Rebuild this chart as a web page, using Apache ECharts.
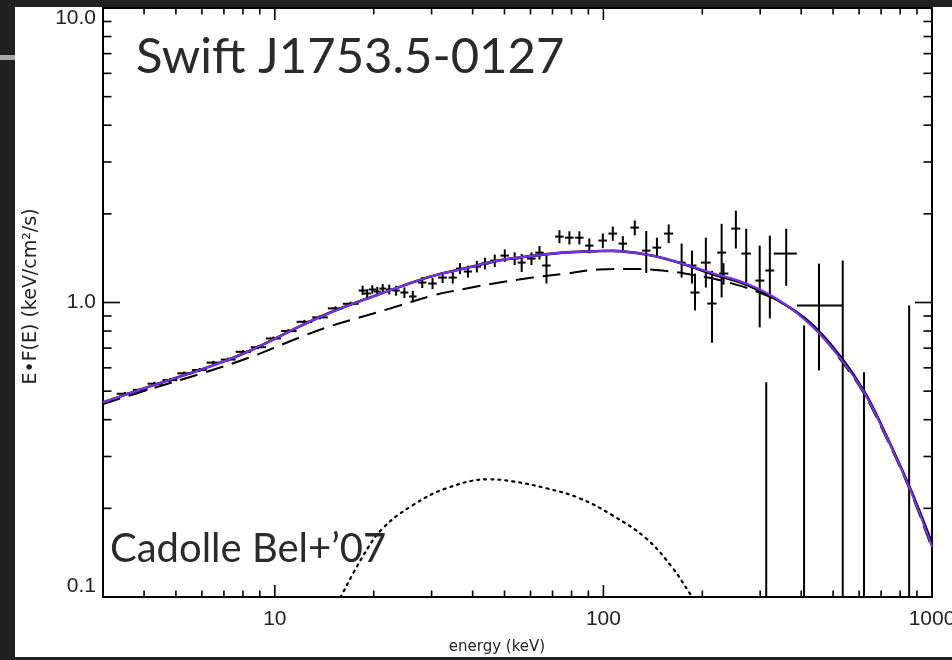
<!DOCTYPE html>
<html><head><meta charset="utf-8">
<script src="https://cdn.jsdelivr.net/npm/echarts@6/dist/echarts.min.js"></script>
<style>html,body{margin:0;padding:0;background:#202020;}#chart{width:952px;height:660px;}</style>
</head><body><div id="chart"></div>
<script>
// ---- model curves ----
const modelEnergy = [3, 4.17, 5.91, 7.0, 8.39, 10, 11.9, 15.0, 19.0, 24.0, 30.2, 38.3, 48.3, 60.8, 77.2, 97.2, 106, 135, 170, 214, 272, 343, 432, 532, 621, 704, 852, 1000];
const modelFlux = [0.458, 0.519, 0.590, 0.631, 0.686, 0.753, 0.830, 0.932, 1.029, 1.13, 1.23, 1.31, 1.39, 1.44, 1.48, 1.495, 1.497, 1.455, 1.365, 1.26, 1.16, 1.016, 0.83, 0.636, 0.495, 0.377, 0.236, 0.148];
const blackModelFlux = [0.458, 0.519, 0.590, 0.631, 0.686, 0.753, 0.830, 0.932, 1.029, 1.13, 1.23, 1.31, 1.39, 1.44, 1.48, 1.495, 1.497, 1.455, 1.365, 1.25, 1.15, 1.01, 0.84, 0.645, 0.50, 0.38, 0.238, 0.152];
const comptEnergy = [3, 4.17, 5.91, 8.39, 11.9, 15.0, 19.0, 24.0, 30.2, 38.3, 48.3, 60.8, 77.2, 97.2, 120, 151, 192, 241, 304, 360, 432, 532, 621, 704, 852, 1000];
const comptFlux = [0.452, 0.508, 0.572, 0.651, 0.761, 0.836, 0.903, 0.977, 1.056, 1.116, 1.169, 1.215, 1.254, 1.294, 1.30, 1.284, 1.235, 1.169, 1.073, 0.977, 0.84, 0.63, 0.49, 0.373, 0.234, 0.146];
const reflEnergy = [15.5, 18.5, 21.3, 26.3, 33.3, 45.0, 52.9, 67.1, 84.5, 106, 135, 162, 183, 192];
const reflFlux = [0.095, 0.137, 0.171, 0.205, 0.234, 0.251, 0.247, 0.234, 0.2166, 0.190, 0.158, 0.126, 0.103, 0.095];

// ---- data points: [energy, energyLo, energyHi, flux, fluxLo, fluxHi] ----
const jemxPoints = [
  [3.5, 3.3, 3.7, 0.49, 0.483, 0.497],
  [3.9, 3.7, 4.1, 0.505, 0.498, 0.512],
  [4.3, 4.1, 4.55, 0.53, 0.522, 0.538],
  [4.8, 4.55, 5.05, 0.545, 0.537, 0.553],
  [5.3, 5.05, 5.6, 0.575, 0.567, 0.583],
  [5.9, 5.6, 6.2, 0.59, 0.581, 0.599],
  [6.5, 6.2, 6.85, 0.625, 0.616, 0.634],
  [7.2, 6.85, 7.6, 0.64, 0.63, 0.65],
  [8.0, 7.6, 8.45, 0.68, 0.67, 0.69],
  [8.9, 8.45, 9.4, 0.705, 0.694, 0.716],
  [9.9, 9.4, 10.45, 0.755, 0.744, 0.766],
  [11, 10.45, 11.65, 0.80, 0.788, 0.812],
  [12.3, 11.65, 13, 0.86, 0.847, 0.873],
  [13.7, 13, 14.5, 0.89, 0.876, 0.904],
  [15.3, 14.5, 16.1, 0.955, 0.94, 0.97],
  [17, 16.1, 18, 0.99, 0.974, 1.006]
];
const isgriPoints = [
  [18.5, 18.0, 19.0, 1.098, 1.06, 1.14],
  [19.1, 18.6, 19.6, 1.073, 1.035, 1.11],
  [19.8, 19.3, 20.3, 1.107, 1.07, 1.145],
  [20.5, 20.0, 21.0, 1.09, 1.05, 1.13],
  [21.3, 20.8, 21.8, 1.115, 1.075, 1.155],
  [22.3, 21.8, 22.8, 1.107, 1.065, 1.15],
  [23.4, 22.8, 24.0, 1.098, 1.055, 1.14],
  [24.8, 24.1, 25.5, 1.081, 1.035, 1.125],
  [26.3, 25.6, 27.0, 1.048, 1.0, 1.095],
  [28.1, 27.3, 28.9, 1.169, 1.12, 1.22],
  [30.2, 29.3, 31.1, 1.16, 1.11, 1.21],
  [32.4, 31.4, 33.4, 1.215, 1.165, 1.265],
  [34.8, 33.8, 35.8, 1.215, 1.16, 1.27],
  [36.6, 35.6, 37.6, 1.304, 1.25, 1.36],
  [38.7, 37.6, 39.8, 1.274, 1.215, 1.335],
  [41.2, 40.0, 42.4, 1.324, 1.265, 1.385],
  [43.6, 42.4, 44.8, 1.356, 1.295, 1.42],
  [46.7, 45.3, 48.1, 1.388, 1.32, 1.455],
  [50.1, 48.6, 51.6, 1.443, 1.375, 1.515],
  [53.7, 52.1, 55.3, 1.41, 1.34, 1.48],
  [56.4, 54.8, 58.0, 1.366, 1.27, 1.46],
  [60.4, 58.6, 62.2, 1.41, 1.34, 1.48],
  [63.9, 62.0, 65.8, 1.477, 1.40, 1.555],
  [67.1, 65.1, 69.1, 1.335, 1.16, 1.443],
  [73.5, 71.3, 75.7, 1.674, 1.59, 1.76],
  [78.8, 76.4, 81.2, 1.66, 1.575, 1.745],
  [84.5, 82.0, 87.0, 1.66, 1.575, 1.745],
  [90.6, 88.0, 93.3, 1.56, 1.47, 1.65],
  [99.6, 96.6, 102.6, 1.623, 1.53, 1.715],
  [106.8, 103.6, 110, 1.714, 1.62, 1.81],
  [114.6, 111.2, 118, 1.585, 1.49, 1.68],
  [124.6, 120.8, 128.4, 1.796, 1.69, 1.90],
  [135, 131, 139, 1.50, 1.26, 1.75],
  [145.5, 141, 150, 1.536, 1.42, 1.66],
  [158, 153, 163, 1.714, 1.59, 1.84],
  [173, 168, 178, 1.366, 1.215, 1.585],
  [186, 180, 192, 1.335, 1.16, 1.50],
  [190, 184, 196, 1.081, 0.94, 1.254],
  [205, 198, 212, 1.366, 1.124, 1.66],
  [214, 207, 221, 0.992, 0.73, 1.28],
  [229, 222, 236, 1.477, 1.04, 1.85],
  [232, 225, 240, 1.254, 1.15, 1.36],
  [253, 245, 261, 1.782, 1.525, 2.05],
  [272, 263, 281, 1.466, 1.14, 1.78],
  [299, 290, 309, 1.187, 0.823, 1.56],
  [321, 311, 331, 1.284, 0.883, 1.687],
  [360, 330, 388, 1.466, 1.14, 1.78],
  [453, 388, 532, 0.977, 0.588, 1.355]
];
const upperPoints = [
  [313, 305, 321, 0.05, 0.01, 0.536],
  [408, 398, 418, 0.05, 0.01, 0.836],
  [535, 522, 548, 0.05, 0.01, 1.388],
  [621, 606, 636, 0.05, 0.01, 0.58],
  [852, 832, 872, 0.05, 0.01, 0.977]
];

// ---- axes ticks and labels ----
const xMajorTicks = [10, 100, 1000];
const xTickLabels = ['10', '100', '1000'];
const xMinorTicks = [4, 5, 6, 7, 8, 9, 20, 30, 40, 50, 60, 70, 80, 90, 200, 300, 400, 500, 600, 700, 800, 900];
const yMajorTicks = [0.1, 1, 10];
const yTickLabels = ['0.1', '1.0', '10.0'];
const yMinorTicks = [0.2, 0.3, 0.4, 0.5, 0.6, 0.7, 0.8, 0.9, 2, 3, 4, 5, 6, 7, 8, 9];

const titleText = 'Swift J1753.5-0127';
const refText = 'Cadolle Bel+\u201907';

function zip(a, b) { return a.map((v, i) => [v, b[i]]); }
function labelFor(v, ticks, labels) {
  for (let i = 0; i < ticks.length; i++) if (Math.abs(v - ticks[i]) / ticks[i] < 1e-6) return labels[i];
  return '';
}

const tickData = [].concat(
  xMajorTicks.map(v => [v, 1]), xMinorTicks.map(v => [v, 2]),
  yMajorTicks.map(v => [v, 3]), yMinorTicks.map(v => [v, 4]));

function renderTicks(params, api) {
  const v = api.value(0), kind = api.value(1);
  const cs = params.coordSys;
  const st = { stroke: '#000', lineWidth: 1.6 };
  if (kind === 1 || kind === 2) {
    const x = api.coord([v, 1])[0];
    const L = kind === 1 ? 12 : 6.5;
    return { type: 'group', children: [
      { type: 'line', shape: { x1: x, y1: cs.y + cs.height, x2: x, y2: cs.y + cs.height - L }, style: st },
      { type: 'line', shape: { x1: x, y1: cs.y, x2: x, y2: cs.y + L }, style: st }
    ]};
  }
  const y = api.coord([10, v])[1];
  const L = kind === 3 ? 17 : 8.5;
  return { type: 'group', children: [
    { type: 'line', shape: { x1: cs.x, y1: y, x2: cs.x + L, y2: y }, style: st },
    { type: 'line', shape: { x1: cs.x + cs.width, y1: y, x2: cs.x + cs.width - L, y2: y }, style: st }
  ]};
}

function renderErr(params, api) {
  const e = api.value(0), elo = api.value(1), ehi = api.value(2);
  const f = api.value(3), flo = api.value(4), fhi = api.value(5);
  const pl = api.coord([elo, f]), pr = api.coord([ehi, f]);
  const pb = api.coord([e, flo]), pt = api.coord([e, fhi]);
  const st = { stroke: '#000', lineWidth: 2 };
  return { type: 'group', children: [
    { type: 'line', shape: { x1: pl[0], y1: pl[1], x2: pr[0], y2: pr[1] }, style: st },
    { type: 'line', shape: { x1: pb[0], y1: pb[1], x2: pt[0], y2: pt[1] }, style: st }
  ]};
}

function errSeries(name, pts) {
  return { name, type: 'custom', renderItem: renderErr, data: pts, clip: true, z: 3,
    dimensions: ['e', 'elo', 'ehi', 'f', 'flo', 'fhi'], encode: { x: 0, y: 3 } };
}

const chart = echarts.init(document.getElementById('chart'), null, { renderer: 'canvas' });
chart.setOption({
  animation: false,
  backgroundColor: '#202020',
  graphic: [
    { type: 'rect', z: -100, shape: { x: 15, y: 7, width: 937, height: 650 }, style: { fill: '#ffffff' } },
    { type: 'rect', z: -100, shape: { x: 0, y: 55, width: 15, height: 5 }, style: { fill: '#a8a8a8' } }
  ],
  title: [
    { text: titleText, left: 136, top: 33, padding: 0,
      textStyle: { fontFamily: 'Lato', fontWeight: 'normal', fontSize: 49, color: '#2a2a2a' } },
    { text: refText, left: 110, top: 529, padding: 0,
      textStyle: { fontFamily: 'Lato', fontWeight: 'normal', fontSize: 40, color: '#2a2a2a' } }
  ],
  grid: { left: 103, right: 20, top: 8, bottom: 63, show: true, borderColor: '#000', borderWidth: 2,
    backgroundColor: 'transparent', containLabel: false, outerBoundsMode: 'none' },
  xAxis: {
    type: 'log', logBase: 10, min: 3, max: 1000,
    name: 'energy (keV)', nameLocation: 'middle', nameGap: 43,
    nameTextStyle: { fontFamily: 'DejaVu Sans', fontSize: 15, color: '#222', padding: [0, 41, 0, 0] },
    axisLine: { show: true, lineStyle: { color: '#000', width: 2 } },
    axisTick: { show: false }, minorTick: { show: false }, splitLine: { show: false },
    axisLabel: { show: true, margin: 12, fontFamily: 'Liberation Sans', fontSize: 21, color: '#222',
      hideOverlap: false,
      formatter: v => labelFor(v, xMajorTicks, xTickLabels) }
  },
  yAxis: {
    type: 'log', logBase: 10, min: 0.1, max: 10,
    name: 'E\u2022F(E) (keV/cm\u00B2/s)', nameLocation: 'middle', nameGap: 62,
    nameTextStyle: { fontFamily: 'DejaVu Sans', fontSize: 19, color: '#222', padding: [0, 0, 0, 12] },
    axisLine: { show: true, lineStyle: { color: '#000', width: 2 } },
    axisTick: { show: false }, minorTick: { show: false }, splitLine: { show: false },
    axisLabel: { show: true, margin: 7, fontFamily: 'Liberation Sans', fontSize: 21, color: '#222',
      verticalAlignMinLabel: 'bottom', verticalAlignMaxLabel: 'top',
      formatter: v => labelFor(v, yMajorTicks, yTickLabels) }
  },
  series: [
    { name: 'ticks', type: 'custom', renderItem: renderTicks, data: tickData, z: 10, silent: true },
    { name: 'reflection', type: 'line', data: zip(reflEnergy, reflFlux), smooth: 0.4, showSymbol: false, clip: true, z: 2,
      lineStyle: { color: '#000', width: 2.2, type: [2, 5], cap: 'round' } },
    { name: 'comptonization', type: 'line', data: zip(comptEnergy, comptFlux), smooth: 0.4, showSymbol: false, clip: true, z: 2,
      lineStyle: { color: '#000', width: 2, type: [18, 9] } },
    { name: 'model black', type: 'line', data: zip(modelEnergy, blackModelFlux), smooth: 0.4, showSymbol: false, clip: true, z: 2,
      lineStyle: { color: '#000', width: 2.6 } },
    errSeries('JEM-X', jemxPoints),
    errSeries('ISGRI', isgriPoints),
    errSeries('ISGRI upper', upperPoints),
    { name: 'model', type: 'line', data: zip(modelEnergy, modelFlux), smooth: 0.4, showSymbol: false, clip: true, z: 4,
      lineStyle: { color: '#7b2ff0', width: 2.2 } }
  ]
});
</script>
</body></html>
